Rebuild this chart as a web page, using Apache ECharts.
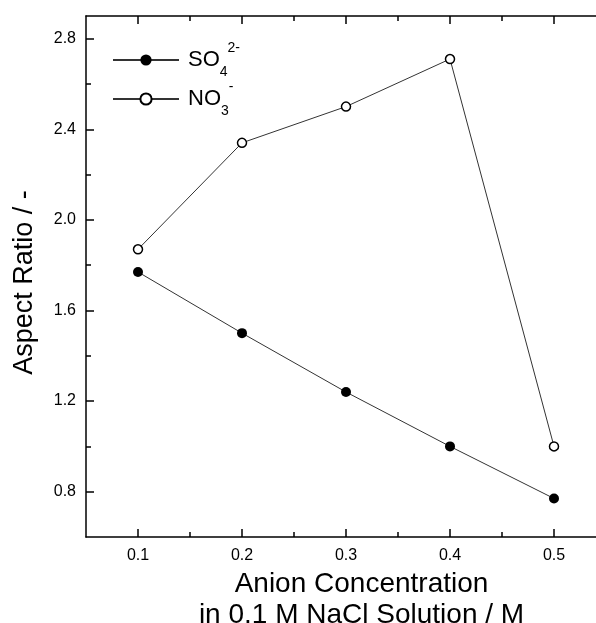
<!DOCTYPE html>
<html>
<head>
<meta charset="utf-8">
<script src="https://cdn.jsdelivr.net/npm/echarts@6/dist/echarts.min.js"></script>
<style>
    html, body { margin: 0; padding: 0; background: #fff; }
    #chart { width: 596px; height: 623px; }
</style>
</head>
<body>
<div id="chart"></div>
<script>
    // concentration (M)
    let concList = [0.1, 0.2, 0.3, 0.4, 0.5];
    // aspect ratio
    let so4List = [1.77, 1.50, 1.24, 1.00, 0.77];
    let no3List = [1.87, 2.34, 2.50, 2.71, 1.00];
    // ticks
    let xMajorTicks = [0.1, 0.2, 0.3, 0.4, 0.5];
    let xMinorTicks = [0.15, 0.25, 0.35, 0.45];
    let yMajorTicks = [0.8, 1.2, 1.6, 2.0, 2.4, 2.8];
    let yMinorTicks = [1.0, 1.4, 1.8, 2.2, 2.6];

    let myChart = echarts.init(document.getElementById('chart'));
    let font = 'Liberation Sans, Arial, sans-serif';

    let pairs = (xs, ys) => xs.map((x, i) => [x, ys[i]]);

    let tickAxis = function (pos, ticks, len, extra) {
        let a = {
            type: 'value',
            position: pos,
            axisLine: {show: false},
            splitLine: {show: false},
            axisLabel: {show: false},
            axisTick: {
                show: true, inside: true, length: len, customValues: ticks,
                lineStyle: {color: '#000', width: 1.5}
            }
        };
        return Object.assign(a, extra);
    };

    let xRange = {min: 0.05, max: 0.55};
    let yRange = {min: 0.6, max: 2.9};

    let option = {
        animation: false,
        textStyle: {fontFamily: font, color: '#000'},
        // plot box runs past the right edge of the picture
        grid: {left: 86, top: 16, bottom: 86, width: 520, containLabel: false, outerBoundsMode: 'none'},
        legend: {
            orient: 'vertical',
            left: 107,
            top: 36,
            itemWidth: 66,
            itemHeight: 14,
            itemGap: 1,
            data: ['SO4', 'NO3'],
            formatter: function (name) {
                if (name === 'SO4') return '{b|SO}{sub|4}{sup|2-}';
                return '{b|NO}{sub|3}{sup|-}';
            },
            textStyle: {
                fontFamily: font,
                color: '#000',
                rich: {
                    b: {fontSize: 22, lineHeight: 38, fontFamily: font, padding: [0, 0, 0, 4]},
                    sub: {fontSize: 14, lineHeight: 14, verticalAlign: 'bottom', fontFamily: font},
                    sup: {fontSize: 14, lineHeight: 14, verticalAlign: 'top', fontFamily: font}
                }
            }
        },
        xAxis: [
            Object.assign({
                type: 'value',
                position: 'bottom',
                name: 'Anion Concentration\nin 0.1 M NaCl Solution / M',
                nameLocation: 'middle',
                nameGap: 29,
                nameTextStyle: {fontSize: 28, lineHeight: 31, fontFamily: font, color: '#000', padding: [0, 0, 0, 31]},
                axisLine: {show: true, onZero: false, lineStyle: {color: '#000', width: 1.5}},
                splitLine: {show: false},
                axisTick: {show: true, inside: true, length: 8, customValues: xMajorTicks,
                    lineStyle: {color: '#000', width: 1.5}},
                axisLabel: {customValues: xMajorTicks, fontSize: 16, margin: 11, color: '#000', fontFamily: font,
                    formatter: v => v.toFixed(1)}
            }, xRange),
            tickAxis('bottom', xMinorTicks, 5, xRange),
            Object.assign(tickAxis('top', xMajorTicks, 8, xRange),
                {axisLine: {show: true, onZero: false, lineStyle: {color: '#000', width: 1.5}}}),
            tickAxis('top', xMinorTicks, 5, xRange)
        ],
        yAxis: [
            Object.assign({
                type: 'value',
                position: 'left',
                name: 'Aspect Ratio / -',
                nameLocation: 'middle',
                nameGap: 48,
                nameTextStyle: {fontSize: 27, fontFamily: font, color: '#000', padding: [0, 12, 0, 0]},
                axisLine: {show: true, onZero: false, lineStyle: {color: '#000', width: 1.5}},
                splitLine: {show: false},
                axisTick: {show: true, inside: true, length: 8, customValues: yMajorTicks,
                    lineStyle: {color: '#000', width: 1.5}},
                axisLabel: {customValues: yMajorTicks, fontSize: 16, margin: 10, color: '#000', fontFamily: font,
                    formatter: v => v.toFixed(1)}
            }, yRange),
            tickAxis('left', yMinorTicks, 5, yRange)
        ],
        series: [
            {
                name: 'SO4',
                type: 'line',
                data: pairs(concList, so4List),
                symbol: 'circle',
                symbolSize: 10,
                itemStyle: {color: '#000'},
                lineStyle: {color: '#333', width: 1}
            },
            {
                name: 'NO3',
                type: 'line',
                data: pairs(concList, no3List),
                symbol: 'circle',
                symbolSize: 9,
                itemStyle: {color: '#fff', borderColor: '#000', borderWidth: 1.5},
                lineStyle: {color: '#333', width: 1}
            }
        ]
    };
    myChart.setOption(option);
</script>
</body>
</html>
